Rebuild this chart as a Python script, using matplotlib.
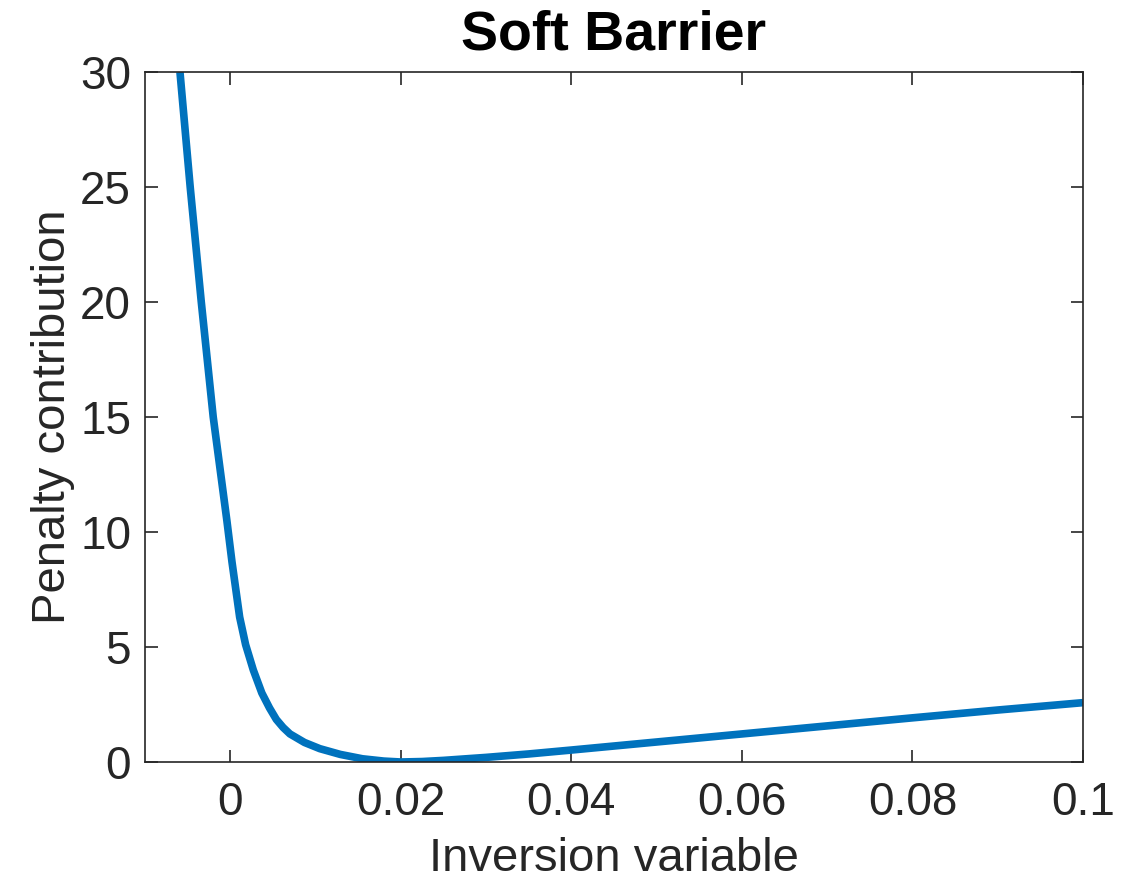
import matplotlib
matplotlib.use("Agg")
import matplotlib.pyplot as plt

# Penalty curve samples (inversion variable -> penalty contribution)
inversion_x = [-0.0059, -0.0047, -0.0034, -0.0020, -0.0004, 0.0002, 0.0011,
               0.0018, 0.0027, 0.0037, 0.0046, 0.0054, 0.0062, 0.0070, 0.0087,
               0.0105, 0.0129, 0.0155, 0.0180, 0.0200, 0.0225, 0.0250, 0.0300,
               0.0350, 0.0400, 0.0500, 0.0600, 0.0700, 0.0800, 0.0900, 0.1000]
penalty_y = [30.0, 25.0, 20.0, 15.0, 10.5, 8.7, 6.3,
             5.1, 4.0, 3.0, 2.35, 1.85, 1.5, 1.22, 0.85,
             0.58, 0.33, 0.14, 0.04, 0.0, 0.02, 0.07, 0.2,
             0.35, 0.52, 0.87, 1.22, 1.57, 1.92, 2.26, 2.58]

x_ticks = [0, 0.02, 0.04, 0.06, 0.08, 0.1]
x_tick_labels = ["0", "0.02", "0.04", "0.06", "0.08", "0.1"]
y_ticks = [0, 5, 10, 15, 20, 25, 30]
y_tick_labels = ["0", "5", "10", "15", "20", "25", "30"]

plt.rcParams["font.family"] = ["Liberation Sans", "DejaVu Sans"]
text_color = "#262626"

fig = plt.figure(figsize=(11.38, 8.86), dpi=100)
ax = fig.add_axes([145 / 1138, 1 - 762 / 886, (1083 - 145) / 1138, (762 - 72) / 886])

ax.plot(inversion_x, penalty_y, color="#0072BD", linewidth=5.5,
        solid_capstyle="butt", solid_joinstyle="round")

ax.set_xlim(-0.01, 0.1)
ax.set_ylim(0, 30)
ax.set_xticks(x_ticks)
ax.set_xticklabels(x_tick_labels)
ax.set_yticks(y_ticks)
ax.set_yticklabels(y_tick_labels)

for spine in ax.spines.values():
    spine.set_color(text_color)
    spine.set_linewidth(1.2)

ax.tick_params(axis="both", direction="in", length=9, width=1.2,
               colors=text_color, labelsize=33, top=True, right=True)
ax.tick_params(axis="x", pad=14)
ax.tick_params(axis="y", pad=10)

ax.set_title("Soft Barrier", fontsize=40, fontweight="bold", color="black", pad=16)
ax.set_xlabel("Inversion variable", fontsize=34, color=text_color, labelpad=8)
ax.set_ylabel("Penalty contribution", fontsize=34, color=text_color, labelpad=4)

fig.savefig("out.png", dpi=100, facecolor="white")
